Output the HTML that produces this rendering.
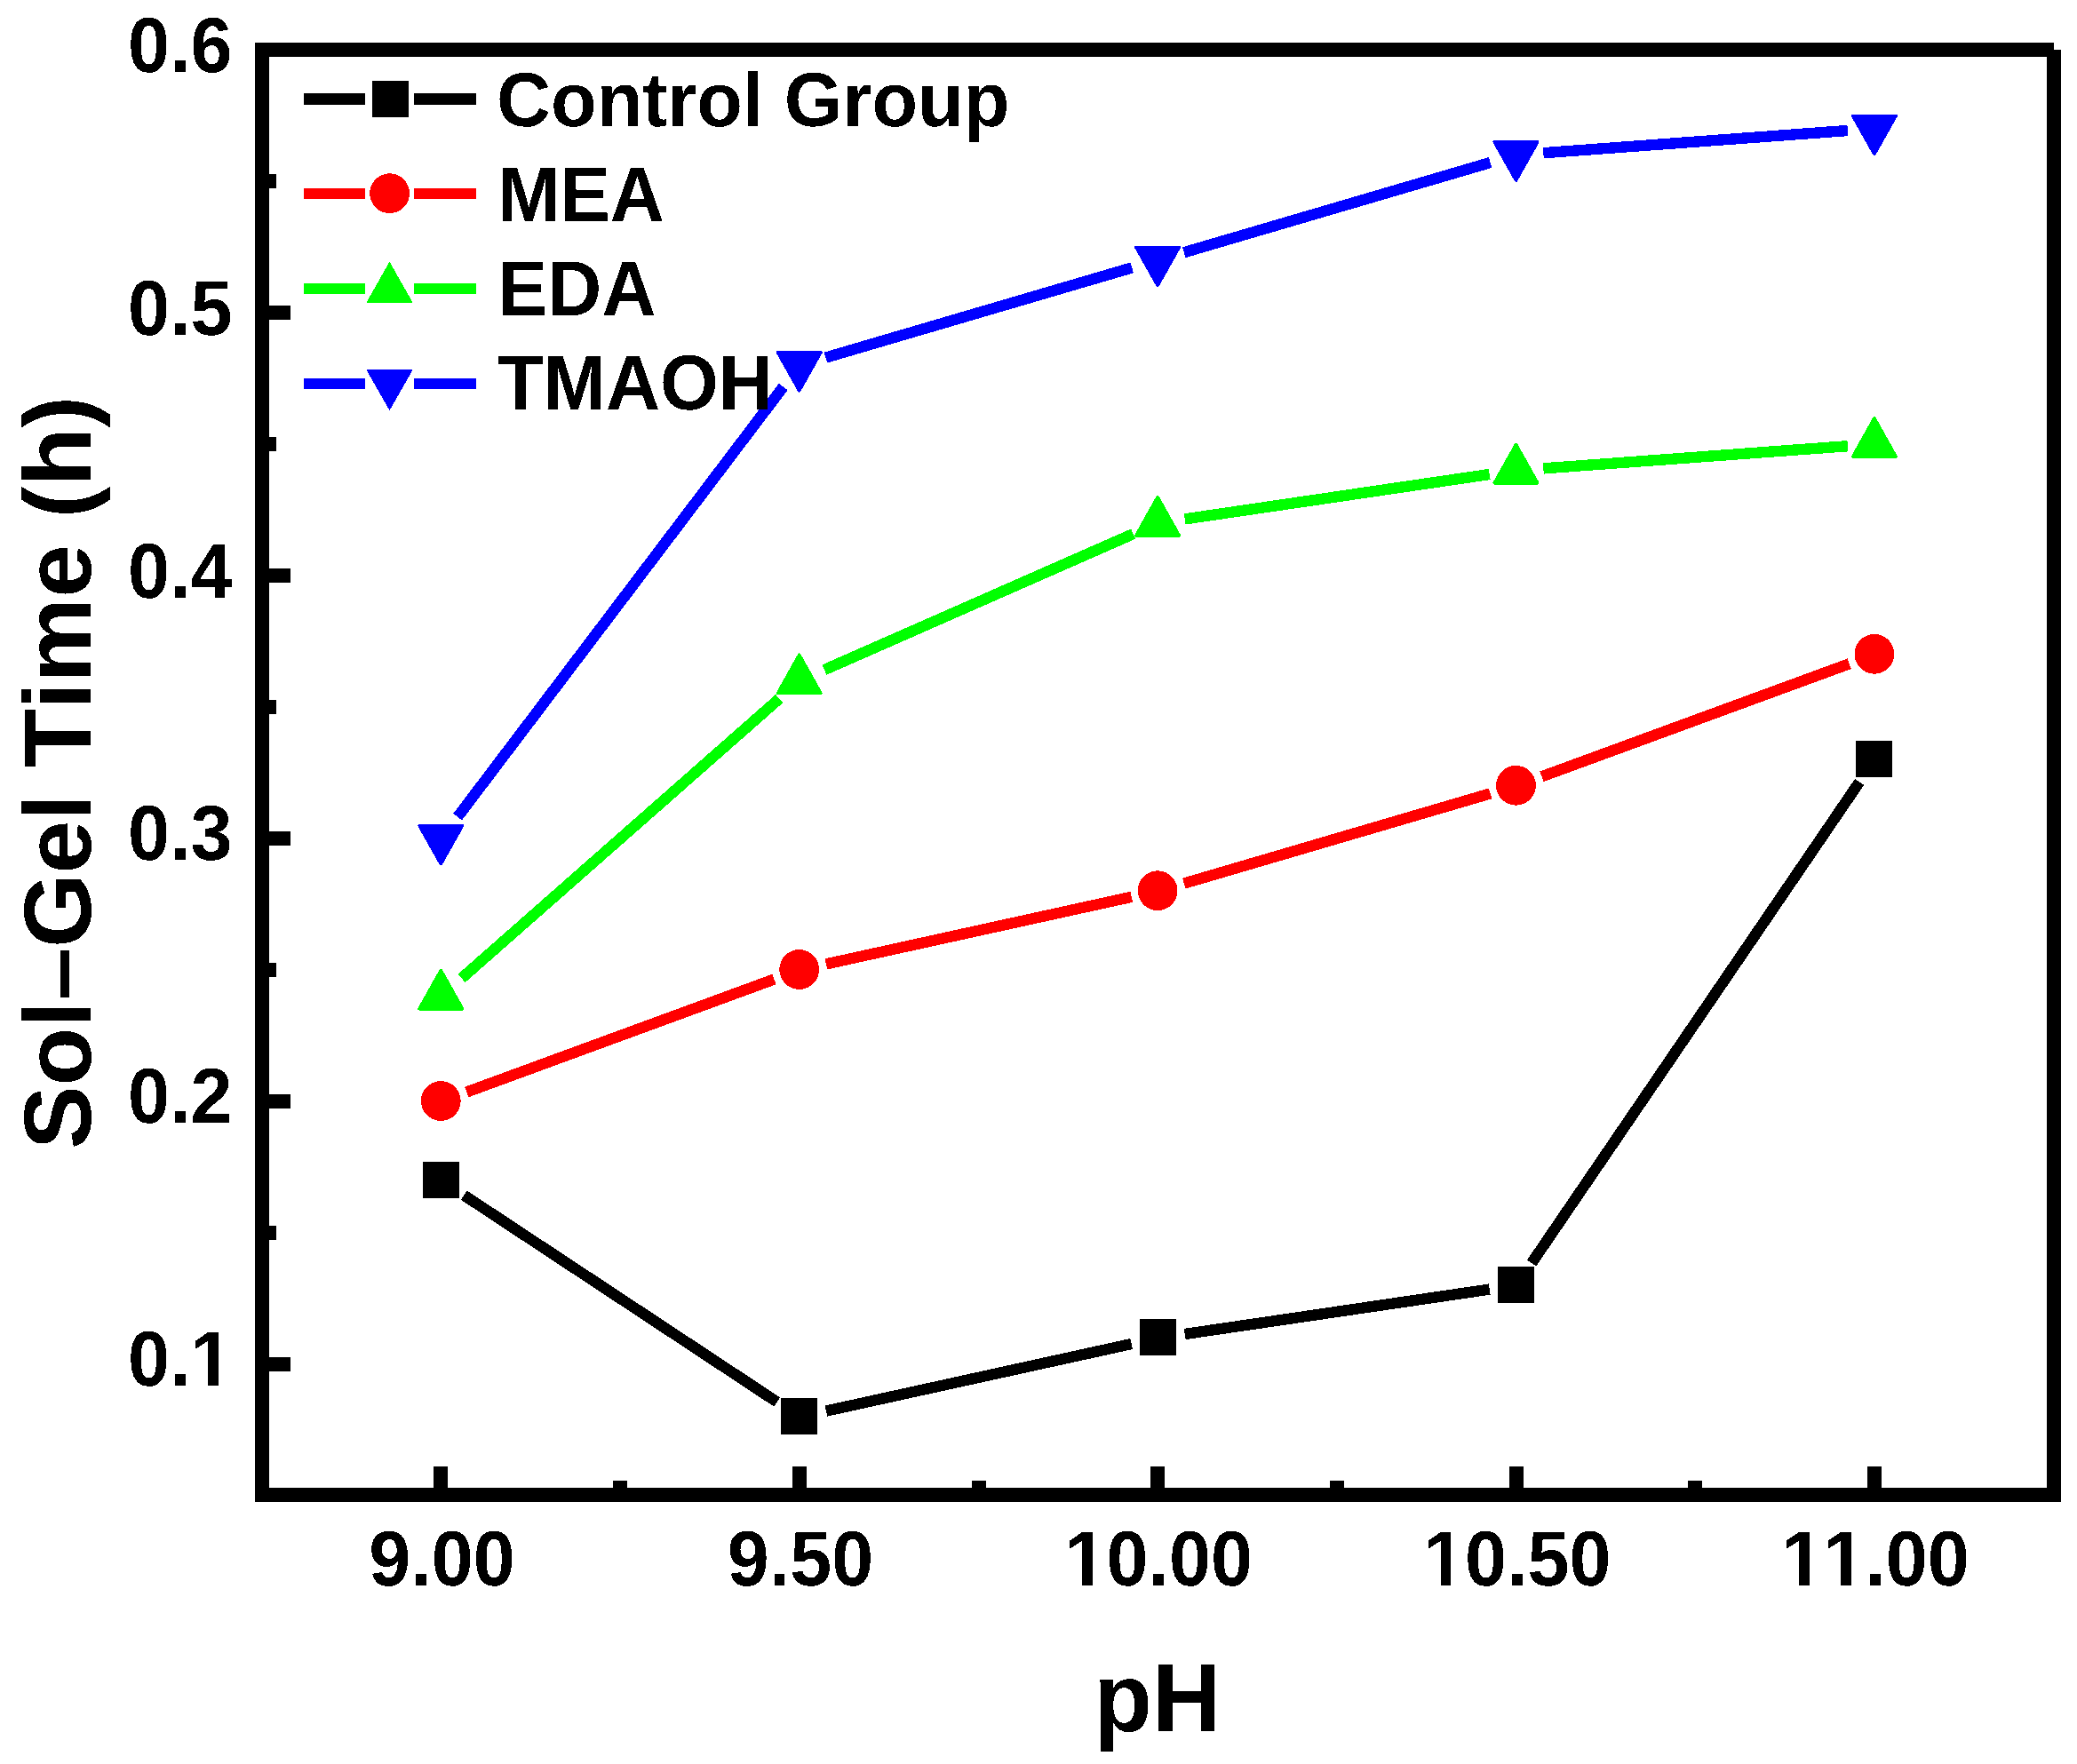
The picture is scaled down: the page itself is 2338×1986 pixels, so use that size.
<!DOCTYPE html>
<html lang="en"><head><meta charset="utf-8"><title>Sol-Gel Time vs pH</title>
<style>html,body{margin:0;padding:0;background:#fff}body{width:2338px;height:1986px;overflow:hidden}svg{display:block}text{font-family:"Liberation Sans",Arial,Helvetica,sans-serif;font-weight:bold;fill:#000;font-kerning:none;text-rendering:geometricPrecision}</style>
</head><body>
<svg width="2338" height="1986" viewBox="0 0 2338 1986">
<defs><filter id="hard" filterUnits="userSpaceOnUse" x="0" y="0" width="2338" height="1986" color-interpolation-filters="sRGB"><feComponentTransfer><feFuncA type="discrete" tableValues="0 1"/></feComponentTransfer></filter></defs>
<rect x="0" y="0" width="2338" height="1986" fill="#fff"/>
<g fill="none" stroke-linecap="butt" shape-rendering="crispEdges">
<line x1="522.2" y1="1345.6" x2="874.6" y2="1578.4" stroke="#000000" stroke-width="12.4"/>
<line x1="929.9" y1="1588.6" x2="1273.7" y2="1513.0" stroke="#000000" stroke-width="12.4"/>
<line x1="1333.7" y1="1502.0" x2="1676.7" y2="1451.6" stroke="#000000" stroke-width="12.4"/>
<line x1="1724.1" y1="1422.0" x2="2093.1" y2="880.4" stroke="#000000" stroke-width="12.4"/>
<line x1="525.3" y1="1229.5" x2="871.5" y2="1102.5" stroke="#FF0000" stroke-width="12.4"/>
<line x1="929.9" y1="1085.4" x2="1273.7" y2="1009.8" stroke="#FF0000" stroke-width="12.4"/>
<line x1="1332.8" y1="994.6" x2="1677.6" y2="893.4" stroke="#FF0000" stroke-width="12.4"/>
<line x1="1735.5" y1="874.3" x2="2081.7" y2="747.3" stroke="#FF0000" stroke-width="12.4"/>
<line x1="519.6" y1="1101.4" x2="877.2" y2="786.6" stroke="#00FF00" stroke-width="12.4"/>
<line x1="928.0" y1="754.1" x2="1275.6" y2="601.1" stroke="#00FF00" stroke-width="12.4"/>
<line x1="1333.7" y1="584.4" x2="1676.7" y2="534.0" stroke="#00FF00" stroke-width="12.4"/>
<line x1="1737.3" y1="527.4" x2="2079.9" y2="502.2" stroke="#00FF00" stroke-width="12.4"/>
<line x1="515.1" y1="919.7" x2="881.7" y2="435.5" stroke="#0000FF" stroke-width="12.4"/>
<line x1="929.4" y1="402.6" x2="1274.2" y2="301.4" stroke="#0000FF" stroke-width="12.4"/>
<line x1="1332.8" y1="284.2" x2="1677.6" y2="183.0" stroke="#0000FF" stroke-width="12.4"/>
<line x1="1737.3" y1="172.2" x2="2079.9" y2="147.0" stroke="#0000FF" stroke-width="12.4"/>
</g>
<g shape-rendering="crispEdges">
<rect x="475.8" y="1307.8" width="41" height="41" fill="#000000" shape-rendering="crispEdges"/>
<rect x="879.2" y="1574.2" width="41" height="41" fill="#000000" shape-rendering="crispEdges"/>
<rect x="1282.6" y="1485.4" width="41" height="41" fill="#000000" shape-rendering="crispEdges"/>
<rect x="1686.0" y="1426.2" width="41" height="41" fill="#000000" shape-rendering="crispEdges"/>
<rect x="2089.4" y="834.2" width="41" height="41" fill="#000000" shape-rendering="crispEdges"/>
<circle cx="496.3" cy="1239.5" r="22.4" fill="#FF0000"/>
<circle cx="899.7" cy="1091.5" r="22.4" fill="#FF0000"/>
<circle cx="1303.1" cy="1002.7" r="22.4" fill="#FF0000"/>
<circle cx="1706.5" cy="884.3" r="22.4" fill="#FF0000"/>
<circle cx="2109.9" cy="736.3" r="22.4" fill="#FF0000"/>
<polygon points="472.1,1135.7 520.5,1135.7 496.3,1092.5" fill="#00FF00" stroke="#00FF00" stroke-width="3.6" stroke-linejoin="round"/>
<polygon points="875.5,780.5 923.9,780.5 899.7,737.3" fill="#00FF00" stroke="#00FF00" stroke-width="3.6" stroke-linejoin="round"/>
<polygon points="1278.9,602.9 1327.3,602.9 1303.1,559.7" fill="#00FF00" stroke="#00FF00" stroke-width="3.6" stroke-linejoin="round"/>
<polygon points="1682.3,543.7 1730.7,543.7 1706.5,500.5" fill="#00FF00" stroke="#00FF00" stroke-width="3.6" stroke-linejoin="round"/>
<polygon points="2085.7,514.1 2134.1,514.1 2109.9,470.9" fill="#00FF00" stroke="#00FF00" stroke-width="3.6" stroke-linejoin="round"/>
<polygon points="472.1,929.6 520.5,929.6 496.3,972.6" fill="#0000FF" stroke="#0000FF" stroke-width="3.6" stroke-linejoin="round"/>
<polygon points="875.5,396.8 923.9,396.8 899.7,439.8" fill="#0000FF" stroke="#0000FF" stroke-width="3.6" stroke-linejoin="round"/>
<polygon points="1278.9,278.4 1327.3,278.4 1303.1,321.4" fill="#0000FF" stroke="#0000FF" stroke-width="3.6" stroke-linejoin="round"/>
<polygon points="1682.3,160.0 1730.7,160.0 1706.5,203.0" fill="#0000FF" stroke="#0000FF" stroke-width="3.6" stroke-linejoin="round"/>
<polygon points="2085.7,130.4 2134.1,130.4 2109.9,173.4" fill="#0000FF" stroke="#0000FF" stroke-width="3.6" stroke-linejoin="round"/>
</g>
<g shape-rendering="crispEdges">
<rect x="342" y="105.2" width="69" height="12.5" fill="#000000"/>
<rect x="466" y="105.2" width="70" height="12.5" fill="#000000"/>
<rect x="342" y="211.8" width="69" height="12.5" fill="#FF0000"/>
<rect x="466" y="211.8" width="70" height="12.5" fill="#FF0000"/>
<rect x="342" y="318.8" width="69" height="12.5" fill="#00FF00"/>
<rect x="466" y="318.8" width="70" height="12.5" fill="#00FF00"/>
<rect x="342" y="425.8" width="69" height="12.5" fill="#0000FF"/>
<rect x="466" y="425.8" width="70" height="12.5" fill="#0000FF"/>
</g>
<g shape-rendering="crispEdges">
<rect x="419.0" y="91.0" width="41" height="41" fill="#000000" shape-rendering="crispEdges"/>
<circle cx="438.6" cy="217.7" r="22.4" fill="#FF0000"/>
<polygon points="412.0,341.4 465.0,341.4 438.5,294.6" fill="#00FF00" stroke="#00FF00" stroke-width="0.0" stroke-linejoin="round"/>
<polygon points="412.0,415.6 465.0,415.6 438.5,462.2" fill="#0000FF" stroke="#0000FF" stroke-width="0.0" stroke-linejoin="round"/>
</g>
<g filter="url(#hard)">
<text transform="translate(559.0,141.8) scale(1,1.020)" font-size="84.5">Control Group</text>
<text transform="translate(560.0,249.0) scale(1,1.040)" font-size="84.5">MEA</text>
<text transform="translate(560.0,355.0) scale(1,1.040)" font-size="84.5">EDA</text>
<text transform="translate(560.0,460.8) scale(1,1.040)" font-size="84.5">TMAOH</text>
</g>
<g fill="#000" shape-rendering="crispEdges">
<rect x="287" y="48" width="16" height="1643"/>
<rect x="287" y="1675" width="2033" height="16"/>
<rect x="287" y="48" width="2025" height="16"/>
<rect x="2304" y="56" width="16" height="1635"/>
<rect x="303" y="48.0" width="24" height="16"/>
<rect x="303" y="196.0" width="8" height="16"/>
<rect x="303" y="344.0" width="24" height="16"/>
<rect x="303" y="492.0" width="8" height="16"/>
<rect x="303" y="640.0" width="24" height="16"/>
<rect x="303" y="788.0" width="8" height="16"/>
<rect x="303" y="936.0" width="24" height="16"/>
<rect x="303" y="1084.0" width="8" height="16"/>
<rect x="303" y="1232.0" width="24" height="16"/>
<rect x="303" y="1380.0" width="8" height="16"/>
<rect x="303" y="1528.0" width="24" height="16"/>
<rect x="287.0" y="1667" width="16" height="8"/>
<rect x="488.0" y="1651" width="16" height="24"/>
<rect x="690.0" y="1667" width="16" height="8"/>
<rect x="892.0" y="1651" width="16" height="24"/>
<rect x="1094.0" y="1667" width="16" height="8"/>
<rect x="1295.0" y="1651" width="16" height="24"/>
<rect x="1497.0" y="1667" width="16" height="8"/>
<rect x="1699.0" y="1651" width="16" height="24"/>
<rect x="1900.0" y="1667" width="16" height="8"/>
<rect x="2102.0" y="1651" width="16" height="24"/>
<rect x="2304.0" y="1667" width="16" height="8"/>
</g>
<g filter="url(#hard)">
<text transform="translate(261.5,80.7) scale(1,1.040)" font-size="84.5" text-anchor="end">0.6</text>
<text transform="translate(261.5,376.7) scale(1,1.040)" font-size="84.5" text-anchor="end">0.5</text>
<text transform="translate(261.5,672.7) scale(1,1.040)" font-size="84.5" text-anchor="end">0.4</text>
<text transform="translate(261.5,967.7) scale(1,1.040)" font-size="84.5" text-anchor="end">0.3</text>
<text transform="translate(261.5,1263.7) scale(1,1.040)" font-size="84.5" text-anchor="end">0.2</text>
<text transform="translate(261.5,1559.7) scale(1,1.040)" font-size="84.5" text-anchor="end">0.1</text>
<text transform="translate(497.5,1785) scale(1,1.040)" font-size="84.5" text-anchor="middle">9.00</text>
<text transform="translate(900.9,1785) scale(1,1.040)" font-size="84.5" text-anchor="middle">9.50</text>
<text transform="translate(1304.3,1785) scale(1,1.040)" font-size="84.5" text-anchor="middle">10.00</text>
<text transform="translate(1707.7,1785) scale(1,1.040)" font-size="84.5" text-anchor="middle">10.50</text>
<text transform="translate(2111.1,1785) scale(1,1.040)" font-size="84.5" text-anchor="middle">11.00</text>
</g>
<g fill="#fff" shape-rendering="crispEdges">
<rect x="218.52" y="1549.7" width="15.74" height="11.5"/><rect x="245.81" y="1549.7" width="15.69" height="11.5"/>
<rect x="1202.59" y="1775.0" width="15.74" height="11.5"/><rect x="1229.88" y="1775.0" width="15.69" height="11.5"/>
<rect x="1605.99" y="1775.0" width="15.74" height="11.5"/><rect x="1633.28" y="1775.0" width="15.69" height="11.5"/>
<rect x="2009.39" y="1775.0" width="15.74" height="11.5"/><rect x="2036.68" y="1775.0" width="15.69" height="11.5"/>
<rect x="2056.37" y="1775.0" width="15.74" height="11.5"/><rect x="2083.66" y="1775.0" width="15.69" height="11.5"/>
</g>
<g filter="url(#hard)">
<text transform="translate(1303,1949) scale(1,1.020)" font-size="107.5" text-anchor="middle">pH</text>
<text transform="translate(102,870) rotate(-90)" font-size="107.5" text-anchor="middle">Sol–Gel Time (h)</text>
</g>
</svg></body></html>
